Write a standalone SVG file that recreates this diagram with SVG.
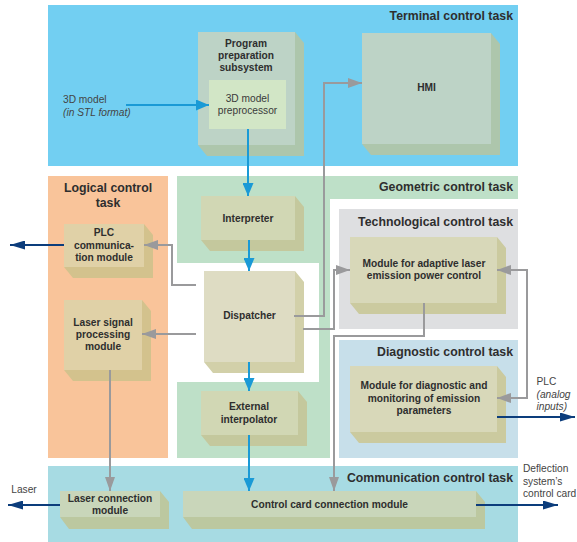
<svg xmlns="http://www.w3.org/2000/svg" width="577" height="542" viewBox="0 0 577 542">
<style>
text{font-family:"Liberation Sans",Arial,sans-serif;fill:#2e2e2e}
.t{font-size:12.3px;font-weight:bold;text-anchor:end}
.lt{font-size:12.3px;font-weight:bold;text-anchor:middle}
.n{font-size:10.2px;font-weight:bold;text-anchor:middle}
.r{font-size:10.2px;text-anchor:middle;fill:#3a3a3a}
.o{font-size:10.2px;fill:#444}
.i{font-style:italic}
.blue{fill:none;stroke:#1a9ad6;stroke-width:2;marker-end:url(#ab)}
.gray{fill:none;stroke:#9a9a9c;stroke-width:2;marker-end:url(#ag)}
.dark{fill:none;stroke:#0c3d7c;stroke-width:2;marker-end:url(#ad)}
.gf{fill:#bdd3c6}.gs{fill:#adc6ac}
.yf{fill:#d1d7b4}.ys{fill:#c4c89d}
.df{fill:#dedcc3}.ds{fill:#d2d0a9}
.of{fill:#e0d1a7}.os{fill:#d3c28d}
.mf{fill:#d8d8b9}.ms{fill:#cbca9f}
.cf{fill:#c9d6ba}.cs{fill:#bcc8a0}
</style>
<defs>
<marker id="ab" markerUnits="userSpaceOnUse" markerWidth="14" markerHeight="11" refX="13" refY="5.5" orient="auto"><path d="M0,0L13,5.5L0,11Z" fill="#1a9ad6"/></marker>
<marker id="ag" markerUnits="userSpaceOnUse" markerWidth="15" markerHeight="10" refX="14" refY="5" orient="auto-start-reverse"><path d="M0,0L14,5L0,10Z" fill="#9a9a9c"/></marker>
<marker id="ad" markerUnits="userSpaceOnUse" markerWidth="16" markerHeight="9" refX="15" refY="4.5" orient="auto"><path d="M0,0L15,4.5L0,9Z" fill="#0c3d7c"/></marker>
</defs>
<rect width="577" height="542" fill="#ffffff"/>

<g id="terminal-panel">
<rect x="48" y="5" width="470" height="161" fill="#72cff2"/>
<text class="t" x="513" y="20">Terminal control task</text>
</g>
<g id="logical-panel">
<rect x="48" y="176" width="120" height="282" fill="#f9c49a"/>
<text class="lt" x="108" y="192">Logical control</text>
<text class="lt" x="108" y="206.5">task</text>
</g>
<g id="geometric-panel">
<path d="M177,176H518V199H330V458H177V382H319V263H177Z" fill="#bee0c8"/>
<text class="t" x="513" y="191">Geometric control task</text>
</g>
<g id="technological-panel">
<rect x="339" y="209" width="179" height="120" fill="#dedfe1"/>
<text class="t" x="513" y="226">Technological control task</text>
</g>
<g id="diagnostic-panel">
<rect x="339" y="340" width="179" height="118" fill="#c7dfea"/>
<text class="t" x="513" y="356">Diagnostic control task</text>
</g>
<g id="communication-panel">
<rect x="48" y="466" width="470" height="76" fill="#a7dbe3"/>
<text class="t" x="513" y="482">Communication control task</text>
</g>

<g id="program-preparation">
<rect class="gf" x="198" y="32" width="97" height="113"/>
<polygon class="gs" points="295,32 304,43 304,156 207,156 198,145 295,145"/>
<text class="n" x="246" y="46.5">Program</text>
<text class="n" x="246" y="58.8">preparation</text>
<text class="n" x="246" y="71.2">subsystem</text>
</g>
<g id="preprocessor">
<rect x="209" y="80" width="77" height="49" fill="#d2e6c6"/>
<text class="r" x="247.5" y="102">3D model</text>
<text class="r" x="247.5" y="114.3">preprocessor</text>
</g>
<g id="hmi">
<rect class="gf" x="362" y="33" width="129" height="111"/>
<polygon class="gs" points="491,33 500,44 500,155 371,155 362,144 491,144"/>
<text class="n" x="426.5" y="91">HMI</text>
</g>
<g id="plc-module">
<rect class="of" x="64" y="224" width="80" height="43"/>
<polygon class="os" points="144,224 153,235 153,278 73,278 64,267 144,267"/>
<text class="n" x="104" y="236">PLC</text>
<text class="n" x="104" y="249.3">communica-</text>
<text class="n" x="104" y="261">tion module</text>
</g>
<g id="laser-signal">
<rect class="of" x="64" y="300" width="78" height="70"/>
<polygon class="os" points="142,300 151,311 151,381 73,381 64,370 142,370"/>
<text class="n" x="103" y="326.3">Laser signal</text>
<text class="n" x="103" y="338.3">processing</text>
<text class="n" x="103" y="349.7">module</text>
</g>
<g id="interpreter">
<rect class="yf" x="201" y="196" width="94" height="44"/>
<polygon class="ys" points="295,196 304,207 304,251 210,251 201,240 295,240"/>
<text class="n" x="248" y="222">Interpreter</text>
</g>
<g id="dispatcher">
<rect class="df" x="204" y="271" width="91" height="91"/>
<polygon class="ds" points="295,271 304,282 304,373 213,373 204,362 295,362"/>
<text class="n" x="249.5" y="319.4">Dispatcher</text>
</g>
<g id="external-interpolator">
<rect class="yf" x="201" y="391" width="97" height="44"/>
<polygon class="ys" points="298,391 307,402 307,446 210,446 201,435 298,435"/>
<text class="n" x="249" y="410.3">External</text>
<text class="n" x="249" y="423">interpolator</text>
</g>
<g id="adaptive-module">
<rect class="mf" x="350" y="237" width="147" height="66"/>
<polygon class="ms" points="497,237 506,248 506,314 359,314 350,303 497,303"/>
<text class="n" x="424" y="267">Module for adaptive laser</text>
<text class="n" x="424" y="279">emission power control</text>
</g>
<g id="diagnostic-module">
<rect class="mf" x="350" y="366" width="147" height="66"/>
<polygon class="ms" points="497,366 506,377 506,443 359,443 350,432 497,432"/>
<text class="n" x="424" y="389.3">Module for diagnostic and</text>
<text class="n" x="424" y="402.3">monitoring of emission</text>
<text class="n" x="424" y="414.3">parameters</text>
</g>
<g id="laser-connection">
<rect class="cf" x="60" y="491" width="100" height="26"/>
<polygon class="cs" points="160,491 169,502 169,529 69,529 60,517 160,517"/>
<text class="n" x="110" y="502">Laser connection</text>
<text class="n" x="110" y="514.3">module</text>
</g>
<g id="control-card">
<rect class="cf" x="183" y="491" width="293" height="26"/>
<polygon class="cs" points="476,491 485,502 485,529 192,529 183,517 476,517"/>
<text class="n" x="329.5" y="508">Control card connection module</text>
</g>

<g id="labels">
<text class="o" x="63" y="103">3D model</text>
<text class="o i" x="63" y="116">(in STL format)</text>
<text class="o" x="536.5" y="385">PLC</text>
<text class="o i" x="536.5" y="398">(analog</text>
<text class="o i" x="536.5" y="409.7">inputs)</text>
<text class="o" x="24" y="493" text-anchor="middle">Laser</text>
<text class="o" x="523" y="472">Deflection</text>
<text class="o" x="523" y="484.5">system’s</text>
<text class="o" x="523" y="497">control card</text>
</g>

<g id="connectors">
<path class="blue" d="M126,105H209"/>
<path class="blue" d="M248,129V196"/>
<path class="blue" d="M249,240V271"/>
<path class="blue" d="M249,362V391"/>
<path class="blue" d="M249,435V491"/>
<path class="gray" d="M294,316H324V83H362"/>
<path class="gray" d="M303,329H334V270H350"/>
<path class="gray" d="M196,285H172V245H144"/>
<path class="gray" d="M196,334H142"/>
<path class="gray" d="M110,370V491"/>
<path class="gray" d="M424,303V336H334V491"/>
<path class="gray" d="M497,270H527V398H497" style="marker-start:url(#ag)"/>
<path class="dark" d="M64,245H10"/>
<path class="dark" d="M497,417H575"/>
<path class="dark" d="M60,505H8"/>
<path class="dark" d="M476,505H558"/>
</g>
</svg>
